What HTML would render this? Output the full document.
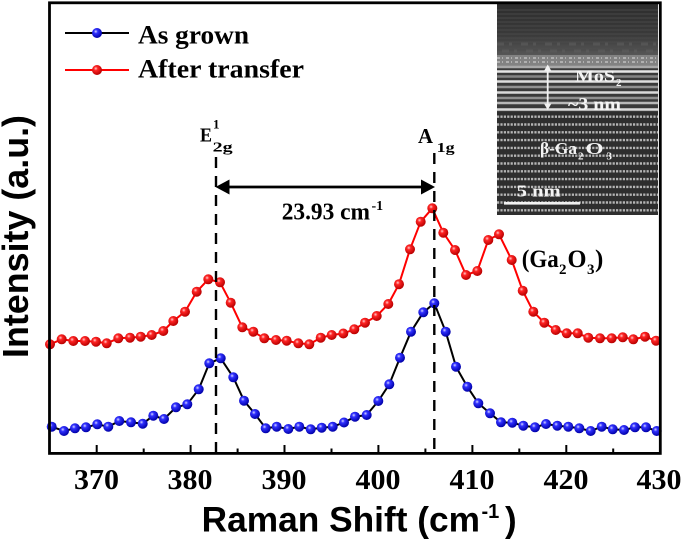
<!DOCTYPE html>
<html><head><meta charset="utf-8"><style>
html,body{margin:0;padding:0;background:#fff;}
svg{display:block;}
.sf{font-family:"Liberation Serif",serif;font-weight:bold;}
.ss{font-family:"Liberation Sans",sans-serif;font-weight:bold;}
</style></head><body>
<svg width="685" height="541" viewBox="0 0 685 541" xmlns="http://www.w3.org/2000/svg">
<defs>
<radialGradient id="gb" cx="0.38" cy="0.35" r="0.65">
<stop offset="0" stop-color="#d8d8ff"/><stop offset="0.3" stop-color="#3030ff"/><stop offset="1" stop-color="#0000a8"/>
</radialGradient>
<radialGradient id="gr" cx="0.38" cy="0.35" r="0.65">
<stop offset="0" stop-color="#ffd0d0"/><stop offset="0.3" stop-color="#ff2424"/><stop offset="1" stop-color="#b80000"/>
</radialGradient>
<marker id="mb" viewBox="0 0 11 11" refX="5.5" refY="5.5" markerWidth="11" markerHeight="11" markerUnits="userSpaceOnUse"><circle cx="5.5" cy="5.5" r="5" fill="url(#gb)"/></marker>
<marker id="mr" viewBox="0 0 11 11" refX="5.5" refY="5.5" markerWidth="11" markerHeight="11" markerUnits="userSpaceOnUse"><circle cx="5.5" cy="5.5" r="5" fill="url(#gr)"/></marker>
<linearGradient id="tg" x1="0" y1="0" x2="0" y2="1">
<stop offset="0" stop-color="#2c2c2c"/><stop offset="0.6" stop-color="#3a3a3a"/><stop offset="1" stop-color="#585858"/>
</linearGradient>
<clipPath id="ic"><rect x="497" y="3" width="161" height="212"/></clipPath>
</defs>

<!-- inset TEM image -->
<g clip-path="url(#ic)">
<rect x="497" y="3" width="161" height="212" fill="#333"/>
<rect x="497" y="3" width="161" height="53" fill="url(#tg)"/>
<g stroke="#4c4c4c" stroke-width="1.2" opacity="0.7">
<line x1="497" y1="10" x2="658" y2="10"/><line x1="497" y1="14" x2="658" y2="14"/><line x1="497" y1="18" x2="658" y2="18"/>
<line x1="497" y1="22" x2="658" y2="22"/><line x1="497" y1="26" x2="658" y2="26"/><line x1="497" y1="30" x2="658" y2="30"/><line x1="497" y1="34" x2="658" y2="34"/><line x1="497" y1="38" x2="658" y2="38"/><line x1="497" y1="42" x2="658" y2="42"/><line x1="497" y1="46" x2="658" y2="46"/><line x1="497" y1="50" x2="658" y2="50"/>
</g>
<g stroke="#5e5e5e" stroke-width="3" stroke-dasharray="7 5 3 9" opacity="0.6">
<line x1="497" y1="44" x2="658" y2="44"/><line x1="502" y1="51" x2="658" y2="51"/>
</g>
<rect x="497" y="55" width="161" height="11" fill="#828282"/>
<g stroke="#b0b0b0" stroke-width="2" stroke-dasharray="3 2 1 3">
<line x1="497" y1="58" x2="658" y2="58"/><line x1="497" y1="62" x2="658" y2="62"/>
</g>
<rect x="497" y="66" width="161" height="47" fill="#3a3a3a"/>
<g stroke-width="2.4">
<line x1="497" y1="67" x2="658" y2="67" stroke="#a8a8a8"/>
<line x1="497" y1="71.5" x2="658" y2="71.5" stroke="#e6e6e6"/>
<line x1="497" y1="76.5" x2="658" y2="76.5" stroke="#858585"/>
<line x1="497" y1="81.5" x2="658" y2="81.5" stroke="#dedede"/>
<line x1="497" y1="87" x2="658" y2="87" stroke="#929292"/>
<line x1="497" y1="92.5" x2="658" y2="92.5" stroke="#dadada"/>
<line x1="497" y1="98" x2="658" y2="98" stroke="#909090"/>
<line x1="497" y1="103" x2="658" y2="103" stroke="#b8b8b8"/>
<line x1="497" y1="109.5" x2="658" y2="109.5" stroke="#dcdcdc"/>
</g>
<rect x="497" y="112" width="161" height="103" fill="#2e2e2e"/>
<g stroke="#b4b4b4" stroke-width="2.4" stroke-dasharray="2.2 1.2">
<line x1="497" y1="116.7" x2="658" y2="116.7"/><line x1="497" y1="124.5" x2="658" y2="124.5"/><line x1="497" y1="132.3" x2="658" y2="132.3"/><line x1="497" y1="140.1" x2="658" y2="140.1"/><line x1="497" y1="147.9" x2="658" y2="147.9"/><line x1="497" y1="155.7" x2="658" y2="155.7"/><line x1="497" y1="163.5" x2="658" y2="163.5"/><line x1="497" y1="171.3" x2="658" y2="171.3"/><line x1="497" y1="179.1" x2="658" y2="179.1"/><line x1="497" y1="186.9" x2="658" y2="186.9"/><line x1="497" y1="194.7" x2="658" y2="194.7"/><line x1="497" y1="202.5" x2="658" y2="202.5"/><line x1="497" y1="210.3" x2="658" y2="210.3"/>
</g>
<!-- inset annotations -->
<g fill="#f2f2f2" stroke="#f2f2f2">
<line x1="547.7" y1="70" x2="547.7" y2="104" stroke-width="1.8"/>
<polygon points="547.7,64.5 544,71 551.4,71" stroke="none"/>
<polygon points="547.7,110 544,103.5 551.4,103.5" stroke="none"/>
<rect x="504" y="202" width="76" height="2.6" stroke="none"/>
</g>
<g fill="#f4f4f4" class="sf">
<text x="575" y="81.7" font-size="17" textLength="40" lengthAdjust="spacingAndGlyphs">MoS</text>
<text x="616" y="86" font-size="11">2</text>
<text x="568" y="110" font-size="18" textLength="53" lengthAdjust="spacingAndGlyphs">~3 nm</text>
<text x="540" y="154" font-size="17" textLength="37" lengthAdjust="spacingAndGlyphs">β-Ga</text>
<text x="578" y="159.5" font-size="11">2</text>
<text x="585.5" y="154" font-size="17" textLength="18" lengthAdjust="spacingAndGlyphs">O</text>
<text x="606.5" y="159.5" font-size="11">3</text>
<text x="516.7" y="196.7" font-size="17" textLength="44" lengthAdjust="spacingAndGlyphs">5 nm</text>
</g>
</g>

<!-- data -->
<polyline fill="none" stroke="#ff0000" stroke-width="2" stroke-linejoin="round" marker-start="url(#mr)" marker-mid="url(#mr)" marker-end="url(#mr)" points="50,344.3 61.7,339.3 73.3,341 85,341 96,341.7 106.7,343.3 118.3,338.3 130,337.7 140.7,336.7 151.7,335 163.3,331 173.3,321 185,311.7 196.7,291.7 208.3,279.3 220,282.3 230.7,302.7 242.3,327.3 253.3,331.7 264.3,338.3 276,340 286.7,340.7 298.3,343.3 309.3,344.3 320.7,337.7 331.7,335 343.3,333.5 354.3,329.3 365,322.7 376.7,316 388.3,304 399,284.2 410,249.3 420.7,221.7 432.3,208.3 443.3,232.7 455,250 466,275 477.3,271 488.3,240 499,234.3 511.7,260 522.7,290.7 533.3,311.7 544.3,322.7 555.7,330 566.7,333.3 577.7,333.3 588.3,337.7 600,338.3 611.7,338.3 622.7,337.3 633.3,339.3 645,336.7 656,340.7"/>
<polyline fill="none" stroke="#000" stroke-width="2" stroke-linejoin="round" marker-start="url(#mb)" marker-mid="url(#mb)" marker-end="url(#mb)" points="51.7,426.7 64,431 75,428.3 86,427.3 97.3,424.3 108.3,426.7 119.3,421 131,422.3 142.7,423.7 153.3,415.7 164,419 176,407.3 187.3,404.3 198.7,389.3 209.3,363.3 220.7,358.3 233.3,377.3 244,400.7 255,414 265.7,428.3 276.7,426.7 288.3,429 299.3,426.7 310.7,429.3 321.7,427.7 332.7,426.7 344,422.5 355,416.7 366.7,415 378.3,401 389.3,384.3 400,357.7 411,331.7 423.3,312.3 434.3,303.3 445.7,331.7 456,366.7 467.3,386.7 478.3,403.3 490,413.3 501,422.3 512.3,422.7 523.3,425.7 535,427.3 546,424 557.3,425.7 568.3,426.7 579.3,428.3 590.7,431 601.7,426.7 612.7,429.3 624,430 635,427.3 646,427.3 656.7,431"/>

<!-- dashed lines -->
<line x1="216" y1="157" x2="216" y2="452" stroke="#000" stroke-width="2.4" stroke-dasharray="11 8"/>
<line x1="434.3" y1="153" x2="434.3" y2="452" stroke="#000" stroke-width="2.4" stroke-dasharray="11 8"/>

<!-- arrow -->
<line x1="226" y1="187" x2="424" y2="187" stroke="#000" stroke-width="2.8"/>
<polygon points="215.5,187 229.5,179.5 229.5,194.5" fill="#000"/>
<polygon points="435,187 421,179.5 421,194.5" fill="#000"/>
<text class="sf" x="281.7" y="219.3" font-size="24" textLength="88.3" lengthAdjust="spacingAndGlyphs">23.93 cm</text>
<text class="sf" x="371.5" y="210" font-size="14">-1</text>

<!-- peak labels -->
<text class="sf" x="200" y="141.7" font-size="20" textLength="12" lengthAdjust="spacingAndGlyphs">E</text>
<text class="sf" x="213" y="128.3" font-size="13">1</text>
<text class="sf" x="212.7" y="151.5" font-size="14" textLength="20" lengthAdjust="spacingAndGlyphs">2g</text>
<text class="sf" x="418" y="143" font-size="21" textLength="15" lengthAdjust="spacingAndGlyphs">A</text>
<text class="sf" x="436.7" y="152" font-size="14" textLength="18" lengthAdjust="spacingAndGlyphs">1g</text>

<!-- (Ga2O3) -->
<text class="sf" x="521.7" y="267" font-size="25" textLength="37" lengthAdjust="spacingAndGlyphs">(Ga</text>
<text class="sf" x="559" y="274" font-size="15">2</text>
<text class="sf" x="567.5" y="267" font-size="25" textLength="19" lengthAdjust="spacingAndGlyphs">O</text>
<text class="sf" x="587" y="274" font-size="15">3</text>
<text class="sf" x="595" y="267" font-size="25">)</text>

<!-- legend -->
<line x1="65" y1="33" x2="129" y2="33" stroke="#000" stroke-width="2"/>
<circle cx="97" cy="33" r="5" fill="url(#gb)"/>
<line x1="65" y1="70" x2="129" y2="70" stroke="#ff0000" stroke-width="2"/>
<circle cx="97" cy="70" r="5" fill="url(#gr)"/>
<text class="sf" x="138" y="43.3" font-size="26" textLength="111" lengthAdjust="spacingAndGlyphs">As grown</text>
<text class="sf" x="138" y="77.7" font-size="26" textLength="166" lengthAdjust="spacingAndGlyphs">After transfer</text>

<!-- frame -->
<rect x="49.5" y="2.8" width="610.8" height="450.6" fill="none" stroke="#000" stroke-width="2.8"/>
<!-- ticks -->
<g stroke="#000" stroke-width="2">
<line x1="96.7" y1="453" x2="96.7" y2="445"/>
<line x1="190.6" y1="453" x2="190.6" y2="445"/>
<line x1="284.5" y1="453" x2="284.5" y2="445"/>
<line x1="378.4" y1="453" x2="378.4" y2="445"/>
<line x1="472.4" y1="453" x2="472.4" y2="445"/>
<line x1="566.3" y1="453" x2="566.3" y2="445"/>
<line x1="143.7" y1="453" x2="143.7" y2="448.5"/>
<line x1="237.6" y1="453" x2="237.6" y2="448.5"/>
<line x1="331.5" y1="453" x2="331.5" y2="448.5"/>
<line x1="425.4" y1="453" x2="425.4" y2="448.5"/>
<line x1="519.3" y1="453" x2="519.3" y2="448.5"/>
<line x1="613.2" y1="453" x2="613.2" y2="448.5"/>
</g>
<g class="sf" font-size="28" text-anchor="middle">
<text x="96.5" y="489" textLength="45" lengthAdjust="spacingAndGlyphs">370</text>
<text x="190" y="489" textLength="45" lengthAdjust="spacingAndGlyphs">380</text>
<text x="284" y="489" textLength="45" lengthAdjust="spacingAndGlyphs">390</text>
<text x="378" y="489" textLength="45" lengthAdjust="spacingAndGlyphs">400</text>
<text x="472" y="489" textLength="45" lengthAdjust="spacingAndGlyphs">410</text>
<text x="566" y="489" textLength="45" lengthAdjust="spacingAndGlyphs">420</text>
<text x="659" y="489" textLength="45" lengthAdjust="spacingAndGlyphs">430</text>
</g>

<!-- axis labels -->
<text class="ss" x="201.7" y="531.7" font-size="35" textLength="278.3" lengthAdjust="spacingAndGlyphs">Raman Shift (cm</text>
<text class="ss" x="481.5" y="518" font-size="20">-1</text>
<text class="ss" x="505" y="531.7" font-size="35">)</text>
<text class="ss" transform="translate(28,236.5) rotate(-90)" x="0" y="0" font-size="36" text-anchor="middle" textLength="243" lengthAdjust="spacingAndGlyphs">Intensity (a.u.)</text>
</svg>
</body></html>
